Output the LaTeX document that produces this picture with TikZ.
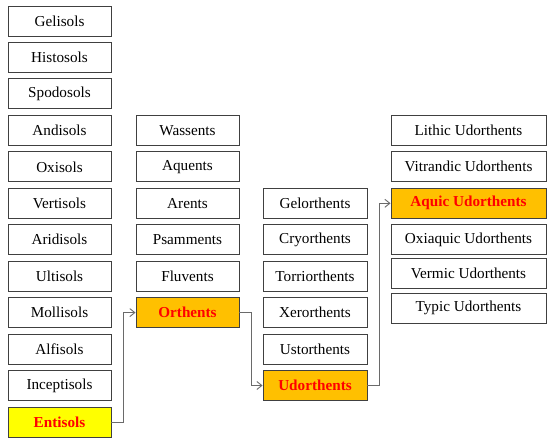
\documentclass[tikz,border=0pt]{standalone}
\usepackage{fontspec}
\setmainfont{Liberation Serif}
\usetikzlibrary{arrows.meta}
\definecolor{boxline}{HTML}{404040}
\definecolor{connline}{HTML}{6A6A6A}
\definecolor{orangefill}{HTML}{FFC000}
\definecolor{yellowfill}{HTML}{FFFF00}
\definecolor{redtext}{HTML}{FF0000}
\tikzset{
  sbox/.style={draw=boxline, line width=0.9pt, fill=white, minimum height=30pt, inner sep=0pt, font=\fontsize{15.2}{16}\selectfont, text=black},
  c1/.style={sbox, minimum width=103pt},
  c2/.style={sbox, minimum width=103pt},
  c3/.style={sbox, minimum width=104pt},
  c4/.style={sbox, minimum width=155pt},
  hl/.style={fill=orangefill, text=redtext, font=\fontsize{15.2}{16}\selectfont\bfseries},
  hly/.style={fill=yellowfill, text=redtext, font=\fontsize{15.2}{16}\selectfont\bfseries},
  conn/.style={draw=connline, line width=0.9pt, -{Straight Barb[length=5pt,width=8pt,line width=0.9pt]}}
}
\begin{document}
\begin{tikzpicture}[x=1pt,y=-1pt]
\useasboundingbox[fill=white] (0,0) rectangle (547,439);
% column 1
\node[c1] (gel) at (59.5,21) {Gelisols};
\node[c1] (his) at (59.5,57.5) {Histosols};
\node[c1] (spo) at (59.5,93.9) {Spodosols};
\node[c1] (and) at (59.5,130.4) {Andisols};
\node[c1] (oxi) at (59.5,166.8) {Oxisols};
\node[c1] (ver) at (59.5,203.3) {Vertisols};
\node[c1] (ari) at (59.5,239.7) {Aridisols};
\node[c1] (ult) at (59.5,276.2) {Ultisols};
\node[c1] (mol) at (59.5,312.6) {Mollisols};
\node[c1] (alf) at (59.5,349.1) {Alfisols};
\node[c1] (inc) at (59.5,385.5) {Inceptisols};
\node[c1,hly] (ent) at (59.5,422) {Entisols};
% column 2
\node[c2] (was) at (187.5,130.4) {Wassents};
\node[c2] (aqu) at (187.5,166.8) {Aquents};
\node[c2] (are) at (187.5,203.3) {Arents};
\node[c2] (psa) at (187.5,239.7) {Psamments};
\node[c2] (flu) at (187.5,276.2) {Fluvents};
\node[c2,hl] (ort) at (187.5,312.6) {Orthents};
% column 3
\node[c3] (gelo) at (315,203.3) {Gelorthents};
\node[c3] (cry) at (315,239.7) {Cryorthents};
\node[c3] (tor) at (315,276.2) {Torriorthents};
\node[c3] (xer) at (315,312.6) {Xerorthents};
\node[c3] (ust) at (315,349.1) {Ustorthents};
\node[c3,hl] (udo) at (315,385.5) {Udorthents};
% column 4
\node[c4] (lit) at (468.5,130.4) {Lithic Udorthents};
\node[c4] (vit) at (468.5,166.8) {Vitrandic Udorthents};
\node[c4,hl] (aqc) at (468.5,203.3) {Aquic Udorthents};
\node[c4] (oxa) at (468.5,239.7) {Oxiaquic Udorthents};
\node[c4] (vrm) at (468.5,273.5) {Vermic Udorthents};
\node[c4] (typ) at (468.5,308) {Typic Udorthents};
% connectors
\draw[conn] (ent.east) -- ++(12,0) |- (ort.west);
\draw[conn] (ort.east) -- ++(12,0) |- (udo.west);
\draw[conn] (udo.east) -- ++(11.5,0) |- (aqc.west);
\end{tikzpicture}
\end{document}
